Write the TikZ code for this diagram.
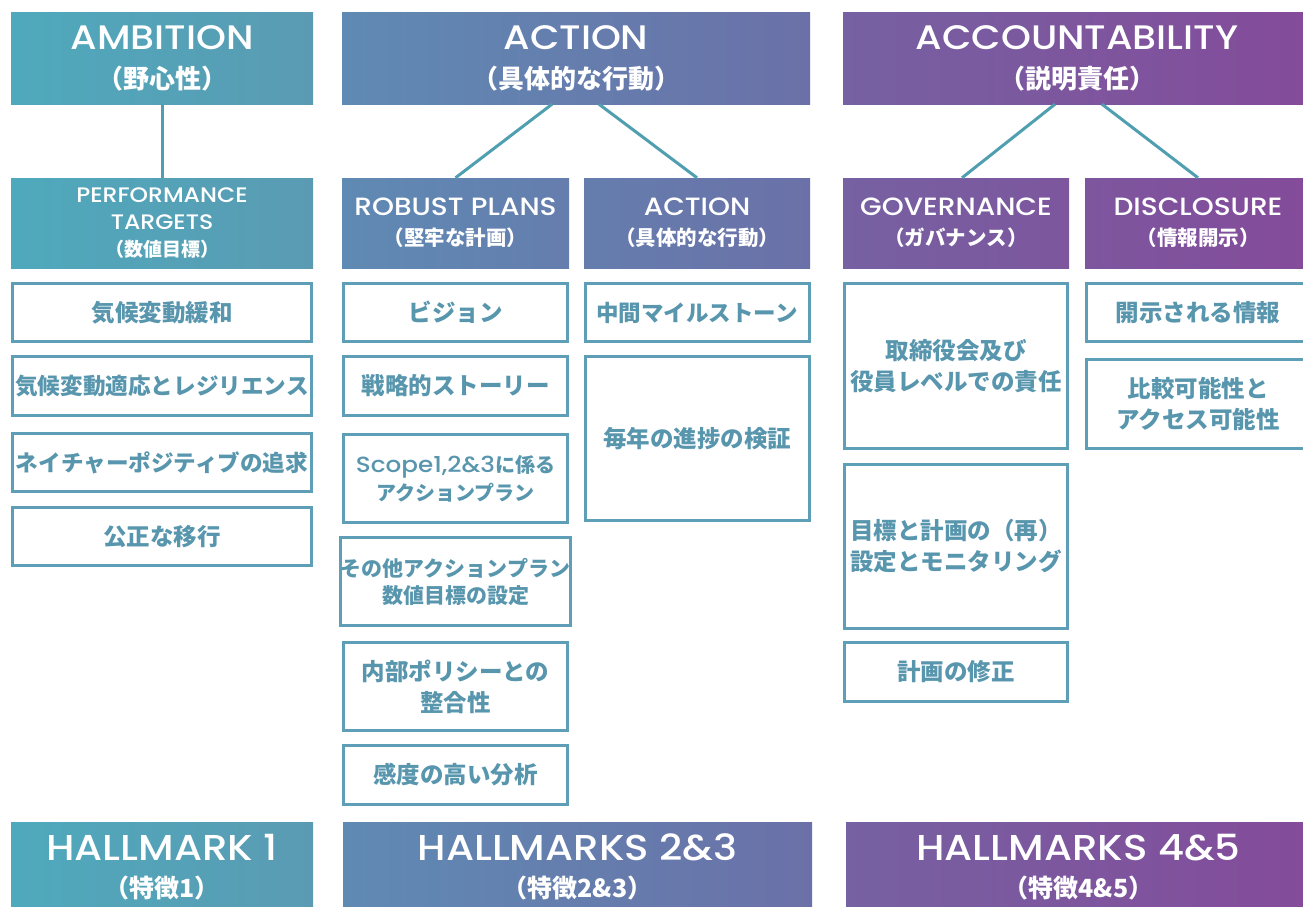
\documentclass[tikz,border=0pt]{standalone}
\usepackage{fontspec}
\setmainfont{Noto Sans CJK JP}
\newfontfamily\latin{Poppins}[UprightFont={* Medium}, FakeStretch=1.12]
\usepackage{xcolor}
\usepackage{tikz}

\definecolor{amb left}{HTML}{4FA9BC}
\definecolor{amb right}{HTML}{5A9BB3}
\definecolor{act left}{HTML}{5F8AB3}
\definecolor{act right}{HTML}{6B71A8}
\definecolor{acc left}{HTML}{7661A2}
\definecolor{acc right}{HTML}{844B9A}
\colorlet{act mid}{act left!50!act right}
\colorlet{acc mid}{acc left!50!acc right}
\definecolor{link}{HTML}{4F9FB0}
\definecolor{item edge}{HTML}{5E9EB6}
\definecolor{item text}{HTML}{5896AE}

% latin words in the coloured bands
\def\hdword#1{{\latin\mdseries\fontsize{34}{36}\selectfont #1}}
\def\subword#1{{\latin\mdseries\fontsize{25}{28}\selectfont #1}}
\def\ptword#1{{\latin\mdseries\fontsize{21}{26}\selectfont #1}}
\def\markword#1{{\latin\mdseries\fontsize{36}{36}\selectfont #1}}

\tikzset{band/.style 2 args={left color=#1, right color=#2, draw=none,
        text=white, inner sep=0pt, align=center},
    hdbox/.style 2 args={band={#1}{#2}, minimum height=91pt,
        font=\bfseries\fontsize{26}{39}\selectfont},
    subbox/.style 2 args={band={#1}{#2}, minimum height=90pt,
        font=\bfseries\fontsize{20.5}{30}\selectfont},
    markbox/.style 2 args={band={#1}{#2}, minimum height=90pt,
        font=\bfseries\fontsize{25}{37}\selectfont},
    itembox/.style={draw=item edge, line width=3pt, fill=white,
        text=item text, inner sep=0pt, align=center,
        font=\bfseries\fontsize{23.5}{31}\selectfont},
    link/.style={draw=link, line width=3pt}}

\begin{document}
\begin{tikzpicture}[x=1pt,y=-1pt]
    \useasboundingbox (0,0) rectangle (1303,907);
    \clip (0,0) rectangle (1303,907);

    % top row
    \node[hdbox={amb left}{amb right}, minimum width=302pt] (amb) at (162,58.5)
        {\hdword{AMBITION}\\（野心性）};
    \node[hdbox={act left}{act right}, minimum width=468pt] (act) at (576,58.5)
        {\hdword{ACTION}\\（具体的な行動）};
    \node[hdbox={acc left}{acc right}, minimum width=468pt] (acc) at (1077,58.5)
        {\hdword{ACCOUNTABILITY}\\（説明責任）};

    % second row
    \node[subbox={amb left}{amb right}, minimum width=302pt,
        font=\bfseries\fontsize{19}{27}\selectfont] (pt) at (162,223)
        {\ptword{PERFORMANCE}\\\ptword{TARGETS}\\（数値目標）};
    \node[subbox={act left}{act mid}, minimum width=227pt] (rp) at (455.5,223)
        {\subword{ROBUST PLANS}\\（堅牢な計画）};
    \node[subbox={act mid}{act right}, minimum width=226pt] (ap) at (697,223)
        {\subword{ACTION}\\（具体的な行動）};
    \node[subbox={acc left}{acc mid}, minimum width=226pt] (gov) at (956,223)
        {\subword{GOVERNANCE}\\（ガバナンス）};
    \node[subbox={acc mid}{acc right}, minimum width=226pt] (disc) at (1198,223)
        {\subword{DISCLOSURE}\\（情報開示）};

    \draw[link] (amb.south) -- (pt.north);
    \draw[link] ([xshift=-24pt]act.south) -- (rp.north);
    \draw[link] ([xshift=23pt]act.south) -- (ap.north);
    \draw[link] ([xshift=-22pt]acc.south) -- ([xshift=6pt]gov.north);
    \draw[link] ([xshift=25pt]acc.south) -- (disc.north);

    % ambition items
    \begin{scope}[every node/.append style={itembox, minimum width=299pt}]
        \node[minimum height=58pt] (p1) at (162,312.5) {気候変動緩和};
        \node[minimum height=59pt, font=\bfseries\fontsize{22.6}{31}\selectfont]
            (p2) at (162,386) {気候変動適応とレジリエンス};
        \node[minimum height=58pt, font=\bfseries\fontsize{22.6}{31}\selectfont]
            (p3) at (162,462.5) {ネイチャーポジティブの追求};
        \node[minimum height=58pt] (p4) at (162,536.5) {公正な移行};
    \end{scope}

    % action items
    \begin{scope}[every node/.append style={itembox, minimum width=224pt}]
        \node[minimum height=58pt] (r1) at (455.5,312.5) {ビジョン};
        \node[minimum height=59pt] (r2) at (455.5,386) {戦略的ストーリー};
        \node[minimum height=88pt, font=\bfseries\fontsize{20}{28}\selectfont]
            (r3) at (455.5,478.5)
            {{\latin\mdseries\fontsize{22}{28}\selectfont Scope1,2\&3}に係る\\アクションプラン};
        \node[minimum height=88pt, font=\bfseries\fontsize{21}{27}\selectfont]
            (r4) at (455.5,581.5) {その他アクションプラン\\数値目標の設定};
        \node[minimum height=88pt] (r5) at (455.5,686.5) {内部ポリシーとの\\整合性};
        \node[minimum height=59pt] (r6) at (455.5,775) {感度の高い分析};
        \node[minimum height=58pt, font=\bfseries\fontsize{22.5}{31}\selectfont]
            (a1) at (697,312.5) {中間マイルストーン};
        \node[minimum height=164pt] (a2) at (697,438.5) {毎年の進捗の検証};
    \end{scope}

    % accountability items
    \begin{scope}[every node/.append style={itembox, minimum width=223pt}]
        \node[minimum height=165pt] (g1) at (956,366) {取締役会及び\\役員レベルでの責任};
        \node[minimum height=164pt] (g2) at (956,546.5) {目標と計画の（再）\\設定とモニタリング};
        \node[minimum height=59pt] (g3) at (956,672) {計画の修正};
        \node[minimum height=58pt] (d1) at (1198,312.5) {開示される情報};
        \node[minimum height=89pt] (d2) at (1198,404) {比較可能性と\\アクセス可能性};
    \end{scope}

    % bottom row
    \node[markbox={amb left}{amb right}, minimum width=302pt] (h1) at (162,867)
        {\markword{HALLMARK 1}\\（特徴1）};
    \node[markbox={act left}{act right}, minimum width=469pt] (h23) at (577.5,867)
        {\markword{HALLMARKS 2\&3}\\（特徴2\&3）};
    \node[markbox={acc left}{acc right}, minimum width=465pt] (h45) at (1078.5,867)
        {\markword{HALLMARKS 4\&5}\\（特徴4\&5）};
\end{tikzpicture}
\end{document}
